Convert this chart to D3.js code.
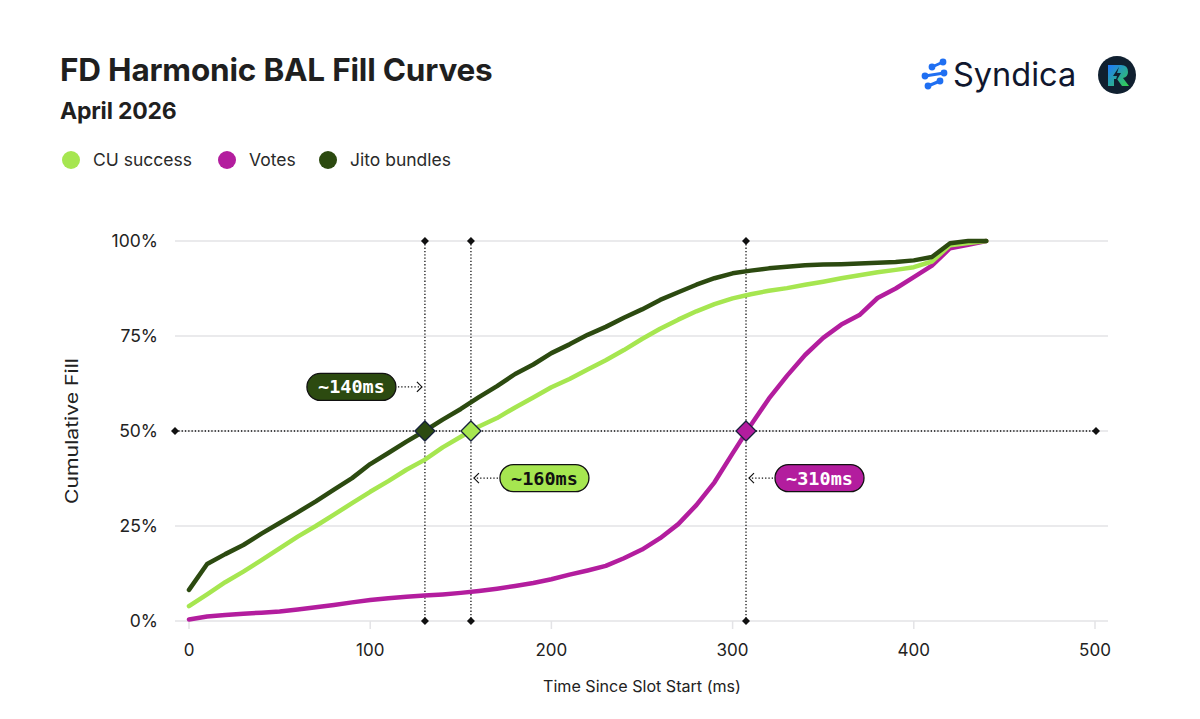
<!DOCTYPE html>
<html><head><meta charset="utf-8">
<script src="https://cdn.jsdelivr.net/npm/d3@7"></script>
<style>
html,body{margin:0;padding:0;background:#fff;}
svg{display:block;font-family:Inter, "Noto Sans", sans-serif;}
</style></head>
<body>
<svg id="chart" width="1200" height="719"></svg>
<script>
// ---- data ----
const timesMs = [0,10,20,30,40,50,60,70,80,90,100,110,120,130,140,150,160,170,180,190,200,210,220,230,240,250,260,270,280,290,300,310,320,330,340,350,360,370,380,390,400,410,420,430,440];
const cuSuccess = [3.9,7.0,10.2,13.0,16.0,19.1,22.2,25.0,28.0,31.0,34.0,36.8,39.8,42.4,45.7,48.5,51.2,53.4,56.2,58.8,61.5,63.7,66.2,68.6,71.3,74.2,76.9,79.3,81.5,83.4,84.9,86.0,86.9,87.6,88.5,89.3,90.2,91.0,91.8,92.4,93.1,94.6,98.9,99.5,100];
const votes = [0.4,1.2,1.6,1.9,2.2,2.5,3.0,3.6,4.2,4.9,5.5,6.0,6.4,6.7,7.0,7.4,7.9,8.5,9.2,10.0,11.0,12.2,13.3,14.5,16.5,18.8,21.8,25.5,30.5,36.5,44.1,51.5,58.5,64.5,70.0,74.5,78.0,80.5,85.0,87.5,90.5,93.5,98.1,99.0,100];
const jitoBundles = [8.2,15.0,17.6,20.0,23.0,25.8,28.6,31.5,34.6,37.6,41.3,44.2,47.2,50.0,53.0,55.8,58.9,61.8,65.0,67.5,70.5,72.8,75.3,77.4,79.8,82.0,84.5,86.5,88.5,90.2,91.5,92.2,92.8,93.2,93.6,93.8,93.9,94.1,94.3,94.5,94.9,95.8,99.4,100,100];
const seriesNames = ["CU success","Votes","Jito bundles"];
const seriesColors = ["#a6e650","#b31d9e","#2c4a10"];
const markerMs = [130.2, 155.6, 307.4];     // where each series crosses 50%
const markerLabels = ["~140ms","~160ms","~310ms"];
const markerSeries = [2, 0, 1];
const xTicks = [0,100,200,300,400,500];
const yTicks = [0,25,50,75,100];
const title = "FD Harmonic BAL Fill Curves";
const subtitle = "April 2026";
const xTitle = "Time Since Slot Start (ms)";
const yTitle = "Cumulative Fill";

// ---- drawing ----
const svg = d3.select("#chart");
const x = d3.scaleLinear().domain([0,500]).range([189,1095]);
const y = d3.scaleLinear().domain([0,100]).range([621,241]);

// title
svg.append("text").attr("x",60).attr("y",81).attr("font-size",31.5).attr("font-weight",700)
  .attr("fill","#1f1f1f").attr("letter-spacing","-0.2").text(title);
svg.append("text").attr("x",60).attr("y",119).attr("font-size",23).attr("font-weight",700)
  .attr("fill","#1f1f1f").attr("letter-spacing","-0.2").text(subtitle);

// legend
const legX = [71,227,328];
seriesNames.forEach((n,i)=>{
  svg.append("circle").attr("cx",legX[i]).attr("cy",160).attr("r",9).attr("fill",seriesColors[i]);
  svg.append("text").attr("x",legX[i]+22).attr("y",166).attr("font-size",17.5).attr("fill","#2a2a2a").text(n);
});

// grid
const g = svg.append("g");
g.selectAll("line.grid").data(yTicks).join("line")
  .attr("x1",175).attr("x2",1108).attr("y1",d=>y(d)).attr("y2",d=>y(d))
  .attr("stroke","#e3e3e6").attr("stroke-width",1.5);
// x ticks
g.selectAll("line.xt").data(xTicks).join("line")
  .attr("x1",d=>x(d)).attr("x2",d=>x(d)).attr("y1",621).attr("y2",629)
  .attr("stroke","#e3e3e6").attr("stroke-width",1.5);
g.selectAll("text.xl").data(xTicks).join("text")
  .attr("x",d=>x(d)).attr("y",656).attr("text-anchor","middle").attr("font-size",17)
  .attr("fill","#222").text(d=>d);
g.selectAll("text.yl").data(yTicks).join("text")
  .attr("x",158).attr("y",d=>y(d)+6).attr("text-anchor","end").attr("font-size",17.5)
  .attr("fill","#222").text(d=>d+"%");
svg.append("text").attr("x",642).attr("y",692).attr("text-anchor","middle").attr("font-size",15.5)
  .attr("fill","#222").attr("textLength",198).attr("lengthAdjust","spacingAndGlyphs").text(xTitle);
svg.append("text").attr("transform","translate(78,431) rotate(-90)").attr("text-anchor","middle")
  .attr("font-size",17).attr("fill","#222").attr("textLength",146).attr("lengthAdjust","spacingAndGlyphs").text(yTitle);

// dotted reference lines
const dot = {stroke:"#111","stroke-width":1.3,"stroke-dasharray":"1.3,2"};
function smallDiamond(cx,cy,s){
  svg.append("path").attr("d",`M${cx},${cy-s}L${cx+s},${cy}L${cx},${cy+s}L${cx-s},${cy}Z`).attr("fill","#111");
}
const hl = svg.append("line").attr("x1",175).attr("x2",1096).attr("y1",y(50)).attr("y2",y(50));
Object.entries(dot).forEach(([k,v])=>hl.attr(k,v));
smallDiamond(175,y(50),4); smallDiamond(1096,y(50),4);
markerMs.forEach(m=>{
  const l = svg.append("line").attr("x1",x(m)).attr("x2",x(m)).attr("y1",y(100)).attr("y2",y(0));
  Object.entries(dot).forEach(([k,v])=>l.attr(k,v));
  smallDiamond(x(m),y(100),4); smallDiamond(x(m),y(0),4);
});

// series lines
const allSeries = [cuSuccess, votes, jitoBundles];
const line = d3.line().x((d,i)=>x(timesMs[i])).y(d=>y(d));
[1,0,2].forEach(si=>{
  svg.append("path").datum(allSeries[si]).attr("d",line).attr("fill","none")
    .attr("stroke",seriesColors[si]).attr("stroke-width",4.5)
    .attr("stroke-linejoin","round").attr("stroke-linecap","round");
});

// markers
markerMs.forEach((m,i)=>{
  const cx=x(m), cy=y(50), s=10;
  svg.append("path").attr("d",`M${cx},${cy-s}L${cx+s},${cy}L${cx},${cy+s}L${cx-s},${cy}Z`)
    .attr("fill",seriesColors[markerSeries[i]]).attr("stroke","#16213a").attr("stroke-width",1.3);
});

// label pills
const mono = "'DejaVu Sans Mono', 'Liberation Mono', monospace";
function pill(cxLine, cyPill, side, label, fill, textFill){
  const w=89, h=27, gap=29;
  const pl = side==="left" ? cxLine-gap-w : cxLine+gap;
  svg.append("rect").attr("x",pl).attr("y",cyPill-h/2).attr("width",w).attr("height",h)
    .attr("rx",h/2).attr("fill",fill).attr("stroke","#111").attr("stroke-width",1.3);
  svg.append("text").attr("x",pl+w/2).attr("y",cyPill+6.5).attr("text-anchor","middle")
    .attr("font-family",mono).attr("font-weight",700).attr("font-size",18.5).attr("fill",textFill).text(label);
  let x1,x2,dir;
  if(side==="left"){ x1=pl+w+2; x2=cxLine-3; dir=1; } else { x1=pl-2; x2=cxLine+3; dir=-1; }
  const a = svg.append("line").attr("x1",x1).attr("x2",x2).attr("y1",cyPill).attr("y2",cyPill);
  Object.entries(dot).forEach(([k,v])=>a.attr(k,v));
  svg.append("path").attr("d",`M${x2-dir*5},${cyPill-5}L${x2},${cyPill}L${x2-dir*5},${cyPill+5}`)
    .attr("fill","none").attr("stroke","#111").attr("stroke-width",1.2);
}
pill(x(markerMs[0]), y(61.6), "left", markerLabels[0], seriesColors[2], "#fff");
pill(x(markerMs[1]), y(37.6), "right", markerLabels[1], seriesColors[0], "#111");
pill(x(markerMs[2]), y(37.6), "right", markerLabels[2], seriesColors[1], "#fff");

// logos
const lg = svg.append("g");
const blue="#1f6ff2";
[[[932,67],[943,62]],[[925,76],[944,73]],[[928,86],[940,81]]].forEach(([a,b])=>{
  lg.append("line").attr("x1",a[0]).attr("y1",a[1]).attr("x2",b[0]).attr("y2",b[1])
    .attr("stroke",blue).attr("stroke-width",3);
  lg.append("circle").attr("cx",a[0]).attr("cy",a[1]).attr("r",3.4).attr("fill",blue);
  lg.append("circle").attr("cx",b[0]).attr("cy",b[1]).attr("r",3.4).attr("fill",blue);
});
lg.append("text").attr("x",953).attr("y",86).attr("font-size",32.5).attr("font-weight",400)
  .attr("fill","#10172e").text("Syndica");
const defs = svg.append("defs");
const grad = defs.append("linearGradient").attr("id","rg").attr("x1","0").attr("y1","0").attr("x2","1").attr("y2","1");
grad.append("stop").attr("offset","0").attr("stop-color","#1e78ff");
grad.append("stop").attr("offset","1").attr("stop-color","#33d14a");
lg.append("circle").attr("cx",1117).attr("cy",75).attr("r",19).attr("fill","#102030");
lg.append("path").attr("d","M1108,65 L1121,65 Q1128,65 1128,72 Q1128,77 1123,78 L1129,86 L1122,86 L1117,79 L1114,79 L1114,86 L1108,86 Z")
  .attr("fill","url(#rg)");
lg.append("path").attr("d","M1119,67 L1113,76 L1117,76 L1115,83 L1121,73 L1117,73 Z").attr("fill","#102030");
</script>
</body></html>
